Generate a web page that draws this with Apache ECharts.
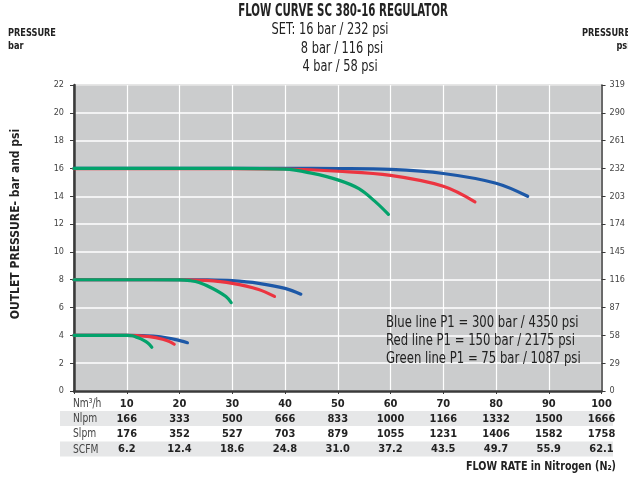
<!DOCTYPE html>
<html>
<head>
<meta charset="utf-8">
<script src="https://cdn.jsdelivr.net/npm/echarts@6/dist/echarts.min.js"></script>
<style>html,body{margin:0;padding:0;background:#fff;}#c{width:628px;height:479px;}</style>
</head>
<body>
<div id="c"></div>
<script>
// ---- data ----
const flowTicks = [10, 20, 30, 40, 50, 60, 70, 80, 90, 100];
const nlpm = [166, 333, 500, 666, 833, 1000, 1166, 1332, 1500, 1666];
const slpm = [176, 352, 527, 703, 879, 1055, 1231, 1406, 1582, 1758];
const scfm = ['6.2', '12.4', '18.6', '24.8', '31.0', '37.2', '43.5', '49.7', '55.9', '62.1'];
const rowNames = ['Nm³/h', 'Nlpm', 'Slpm', 'SCFM'];
const barTicks = [0, 2, 4, 6, 8, 10, 12, 14, 16, 18, 20, 22];
const psiTicks = [0, 29, 58, 87, 116, 145, 174, 203, 232, 261, 290, 319];

const blue16 = [[0,16],[10,16],[20,16],[30,16],[40,16],[50,15.99],[60,15.93],[70,15.64],[80,14.94],[86,14.0]];
const red16 = [[0,15.98],[10,15.98],[20,15.98],[30,15.99],[40,15.96],[50,15.8],[60,15.5],[70,14.72],[76,13.6]];
const green16 = [[0,16],[10,16],[20,16],[30,16],[40,15.95],[45,15.66],[50,15.18],[54,14.55],[57,13.65],[59.6,12.7]];

const blue8 = [[0,8],[10,8],[20,8],[25,7.99],[30,7.93],[35,7.74],[40,7.38],[43,6.96]];
const red8 = [[0,8],[10,8],[20,8],[25,7.95],[30,7.74],[35,7.3],[38,6.8]];
const green8 = [[0,8],[10,8],[20,7.99],[22,7.93],[23.7,7.8],[26.2,7.39],[28.8,6.79],[29.8,6.35]];

const blue4 = [[0,4],[10,4],[13,3.98],[15.5,3.93],[17.5,3.83],[19.3,3.69],[21.5,3.47]];
const red4 = [[0,4],[10,4],[12,3.98],[14.3,3.91],[16.8,3.72],[18.1,3.55],[19,3.36]];
const green4 = [[0,4],[10,4],[11.1,3.97],[12.1,3.83],[13.05,3.67],[14,3.45],[14.75,3.14]];

const legendLines = ['Blue line P1 = 300 bar / 4350 psi', 'Red line P1 = 150 bar / 2175 psi', 'Green line P1 = 75 bar / 1087 psi'];

// ---- styles ----
const FONT = '"Liberation Sans Narrow", "DejaVu Sans Condensed", "Roboto", sans-serif';
const BLUE = '#1d58a7', RED = '#ec3440', GREEN = '#03a26b';

function mk(name, data, color) {
  return {
    type: 'line', name: name, data: data, smooth: 0.35, symbol: 'none',
    lineStyle: { color: color, width: 3.2, cap: 'round' }, z: 3
  };
}
function txt(x, y, text, font, opts) {
  opts = opts || {};
  return { type: 'text', x: x, y: y, scaleX: opts.sx || 1, rotation: opts.rot || 0, z: opts.z || 10,
    style: { text: text, font: font, fill: opts.fill || '#222', align: opts.align || 'left', verticalAlign: opts.va || 'middle' } };
}

const chart = echarts.init(document.getElementById('c'), null, { renderer: 'canvas' });

const rowY0 = 403.5, rowStep = 15.3;
const graphics = [];
graphics.push({ type: 'rect', shape: { x: 60, y: 411, width: 553, height: 15 }, style: { fill: '#e6e7e8' }, z: -1 });
graphics.push({ type: 'rect', shape: { x: 60, y: 441.5, width: 553, height: 15 }, style: { fill: '#e6e7e8' }, z: -1 });
rowNames.forEach((n, i) => {
  graphics.push(txt(73, rowY0 + i * rowStep, n, '12px ' + FONT, { sx: 0.85, fill: '#444' }));
});
graphics.push(txt(8, 33, 'PRESSURE', 'bold 11px ' + FONT, { sx: 0.83 }));
graphics.push(txt(8, 46, 'bar', 'bold 11px ' + FONT, { sx: 0.83 }));
graphics.push(txt(630, 33, 'PRESSURE', 'bold 11px ' + FONT, { sx: 0.83, align: 'right' }));
graphics.push(txt(630, 46, 'psi', 'bold 11px ' + FONT, { sx: 0.83, align: 'right' }));
graphics.push(txt(343, 12, 'FLOW CURVE SC 380-16 REGULATOR', 'bold 17px ' + FONT, { sx: 0.67, align: 'center' }));
graphics.push(txt(330, 30, 'SET: 16 bar / 232 psi', '16px ' + FONT, { sx: 0.79, align: 'center' }));
graphics.push(txt(342, 48.5, '8 bar / 116 psi', '16px ' + FONT, { sx: 0.79, align: 'center' }));
graphics.push(txt(340, 67, '4 bar / 58 psi', '16px ' + FONT, { sx: 0.79, align: 'center' }));
graphics.push(txt(16, 224, 'OUTLET PRESSURE- bar and psi', 'bold 12px ' + FONT, { rot: Math.PI / 2, align: 'center' }));
graphics.push(txt(616, 467, 'FLOW RATE in Nitrogen (N₂)', 'bold 13px ' + FONT, { sx: 0.82, align: 'right' }));
legendLines.forEach((t, i) => {
  graphics.push(txt(386, 323 + i * 18, t, '16px ' + FONT, { sx: 0.81 }));
});

chart.setOption({
  animation: false,
  backgroundColor: '#ffffff',
  grid: { left: 74, right: 23, top: 85, bottom: 88, show: true, backgroundColor: '#cbcccd', borderColor: '#3a3a3a', borderWidth: 1 },
  xAxis: {
    type: 'value', min: 0, max: 100, interval: 10,
    axisLine: { show: true, onZero: false, lineStyle: { color: '#3a3a3a', width: 2.5 } },
    axisTick: { show: true, length: 3, lineStyle: { color: '#3a3a3a' } },
    splitLine: { show: true, lineStyle: { color: '#ffffff', width: 1.2 } },
    axisLabel: {
      margin: 5,
      formatter: function (v) {
        const i = flowTicks.indexOf(v);
        if (i < 0) return '';
        return '{a|' + flowTicks[i] + '}\n{a|' + nlpm[i] + '}\n{a|' + slpm[i] + '}\n{a|' + scfm[i] + '}';
      },
      rich: { a: { fontFamily: FONT, fontWeight: 'bold', fontSize: 11, lineHeight: rowStep, color: '#222' } }
    }
  },
  yAxis: [
    { type: 'value', min: 0, max: 22, interval: 2, position: 'left',
      axisLine: { show: true, lineStyle: { color: '#3a3a3a', width: 2.5 } },
      axisTick: { show: true, length: 4, lineStyle: { color: '#3a3a3a' } },
      splitLine: { show: true, lineStyle: { color: '#ffffff', width: 1.5 } },
      axisLabel: { margin: 10, fontFamily: FONT, fontSize: 9, color: '#444' } },
    { type: 'value', min: 0, max: 319, interval: 29, position: 'right',
      axisLine: { show: true, lineStyle: { color: '#3a3a3a', width: 1.5 } },
      axisTick: { show: true, length: 4, lineStyle: { color: '#3a3a3a' } },
      splitLine: { show: false },
      axisLabel: { margin: 8, fontFamily: FONT, fontSize: 9, color: '#444' } }
  ],
  graphic: graphics,
  series: [
    mk('blue16', blue16, BLUE), mk('red16', red16, RED), mk('green16', green16, GREEN),
    mk('blue8', blue8, BLUE), mk('red8', red8, RED), mk('green8', green8, GREEN),
    mk('blue4', blue4, BLUE), mk('red4', red4, RED), mk('green4', green4, GREEN)
  ]
});
</script>
</body>
</html>
